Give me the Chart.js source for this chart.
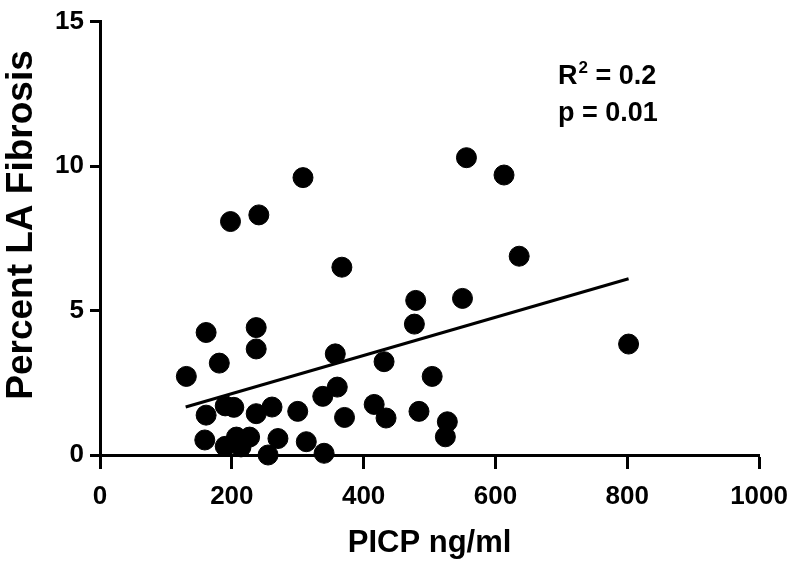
<!DOCTYPE html>
<html>
<head>
<meta charset="utf-8">
<script src="https://cdn.jsdelivr.net/npm/chart.js@4.4.0/dist/chart.umd.min.js"></script>
<style>
    html, body { margin: 0; padding: 0; background: #fff; }
    #wrap { width: 800px; height: 566px; }
</style>
</head>
<body>
<div id="wrap"><canvas id="chart" width="800" height="566"></canvas></div>
<script>
// PICP (ng/ml) vs percent LA fibrosis
const picp = [131, 161, 181, 237, 237, 161, 190, 203, 237, 261, 300, 159, 190, 207, 227, 214, 255, 270, 313,
              479, 550, 477, 357, 431, 504, 360, 338, 371, 416, 434, 484, 527, 524, 340,
              198, 241, 308, 367, 556, 613, 636, 802];
const fibrosis = [2.72, 4.24, 3.18, 4.41, 3.67, 1.38, 1.70, 1.65, 1.43, 1.66, 1.51, 0.52, 0.30, 0.62, 0.62, 0.28, 0.0, 0.57, 0.46,
                  5.35, 5.42, 4.53, 3.50, 3.23, 2.72, 2.35, 2.03, 1.30, 1.75, 1.28, 1.51, 1.15, 0.63, 0.06,
                  8.08, 8.31, 9.60, 6.50, 10.29, 9.69, 6.88, 3.84];

// regression line end points
const fitX = [130, 802];
const fitY = [1.66, 6.10];

const xTicks = [0, 200, 400, 600, 800, 1000];
const yTicks = [0, 5, 10, 15];

const statsText = { r2: '0.2', p: '0.01' };
const yTitle = 'Percent LA Fibrosis';

const points = picp.map((x, i) => ({ x: x, y: fibrosis[i] }));
const fitLine = fitX.map((x, i) => ({ x: x, y: fitY[i] }));

const FONT = "'Liberation Sans', Arial, sans-serif";

// y title (placed a bit above centre like the original) and the R² / p annotation
const textPlugin = {
    id: 'texts',
    afterDraw(chart) {
        const ctx = chart.ctx;
        ctx.save();
        ctx.fillStyle = '#000';

        ctx.save();
        ctx.translate(22, 225);
        ctx.rotate(-Math.PI / 2);
        ctx.textAlign = 'center';
        ctx.textBaseline = 'middle';
        ctx.font = 'bold 37px ' + FONT;
        ctx.fillText(yTitle, 0, 0);
        ctx.restore();

        ctx.textBaseline = 'alphabetic';
        ctx.textAlign = 'left';
        let x = 558;
        ctx.font = 'bold 27px ' + FONT;
        ctx.fillText('R', x, 84);
        x += ctx.measureText('R').width + 1;
        ctx.font = 'bold 17px ' + FONT;
        ctx.fillText('2', x, 73);
        x += ctx.measureText('2').width;
        ctx.font = 'bold 27px ' + FONT;
        ctx.fillText(' = ' + statsText.r2, x, 84);
        ctx.fillText('p = ' + statsText.p, 558, 121);
        ctx.restore();
    }
};

new Chart(document.getElementById('chart').getContext('2d'), {
    type: 'scatter',
    data: {
        datasets: [{
            type: 'line',
            data: fitLine,
            borderColor: '#000',
            borderWidth: 3,
            pointRadius: 0,
            fill: false
        }, {
            data: points,
            backgroundColor: '#000',
            borderColor: '#000',
            pointRadius: 10,
            pointHoverRadius: 10,
            clip: false
        }]
    },
    options: {
        responsive: false,
        animation: false,
        layout: { padding: { top: 19, right: 39, left: 0, bottom: 0 } },
        plugins: {
            legend: { display: false },
            tooltip: { enabled: false }
        },
        scales: {
            x: {
                type: 'linear',
                min: 0,
                max: 1000,
                afterFit: (scale) => { scale.height = 111; },
                afterBuildTicks: (scale) => { scale.ticks = xTicks.map(v => ({ value: v })); },
                border: { display: true, color: '#000', width: 3 },
                grid: { display: true, drawOnChartArea: false, drawTicks: true, tickLength: 14, tickWidth: 3, color: '#000' },
                ticks: {
                    color: '#000',
                    padding: 12,
                    font: { family: FONT, size: 26, weight: 'bold' },
                    callback: (v) => String(v)
                },
                title: {
                    display: true,
                    text: 'PICP ng/ml',
                    color: '#000',
                    padding: { top: 0, bottom: 4 },
                    font: { family: FONT, size: 31, weight: 'bold' }
                }
            },
            y: {
                type: 'linear',
                min: 0,
                max: 15,
                afterFit: (scale) => { scale.width = 100; },
                afterBuildTicks: (scale) => { scale.ticks = yTicks.map(v => ({ value: v })); },
                border: { display: true, color: '#000', width: 3 },
                grid: { display: true, drawOnChartArea: false, drawTicks: true, tickLength: 10, tickWidth: 3, color: '#000' },
                ticks: {
                    color: '#000',
                    padding: 6,
                    font: { family: FONT, size: 26, weight: 'bold' },
                    callback: (v) => String(v)
                },
                title: { display: false }
            }
        }
    },
    plugins: [textPlugin]
});
</script>
</body>
</html>
